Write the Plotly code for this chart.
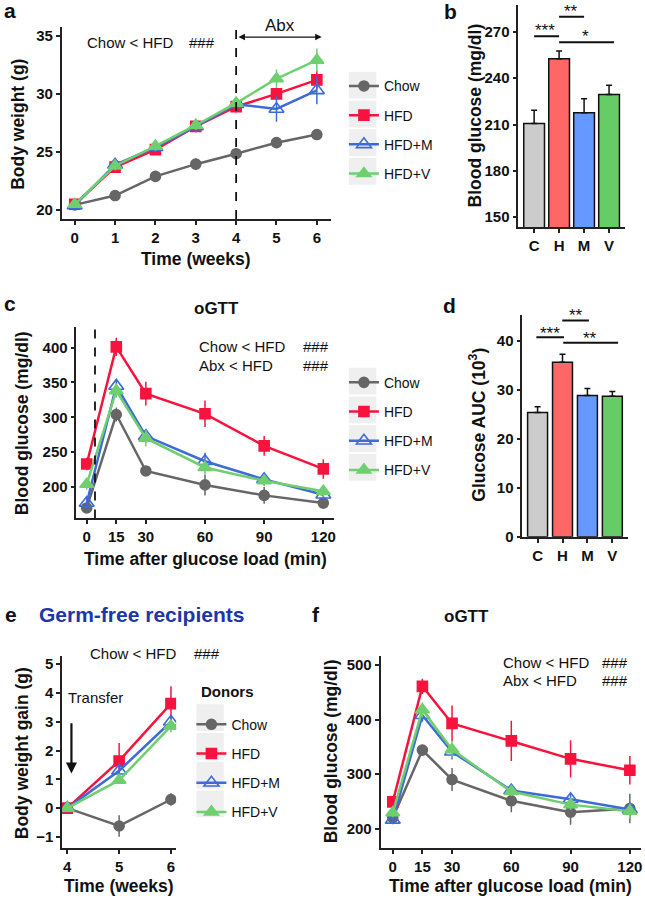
import plotly.graph_objects as go

W, H = 645, 906
FONT = "Liberation Sans, Arial, Helvetica, sans-serif"

# ---------------- data ----------------
groups = ["Chow", "HFD", "HFD+M", "HFD+V"]
bar_cats = ["C", "H", "M", "V"]

# a: body weight (g)
weeks_a = [0, 1, 2, 3, 4, 5, 6]
bw_chow = [20.45, 21.25, 22.9, 23.95, 24.85, 25.8, 26.5]
bw_hfd = [20.5, 23.7, 25.2, 27.2, 28.9, 30.0, 31.2]
bw_hfdm = [20.4, 23.9, 25.4, 27.2, 29.1, 28.7, 30.3]
bw_hfdv = [20.5, 23.8, 25.5, 27.3, 29.2, 31.3, 32.9]
bw_chow_se = [0.3, 0.3, 0.4, 0.5, 0.5, 0.4, 0.4]
bw_hfd_se = [0.3, 0.4, 0.4, 0.4, 0.5, 0.5, 0.8]
bw_hfdm_se = [0.4, 0.4, 0.4, 0.5, 0.5, 1.1, 1.2]
bw_hfdv_se = [0.3, 0.4, 0.4, 0.4, 0.5, 0.8, 1.0]

# b: fasting blood glucose (mg/dl)
glu_b = [210.6, 252.6, 217.7, 229.5]
glu_b_se = [8.6, 5.0, 9.0, 6.0]

# c: oGTT (mg/dl)
t_gtt = [0, 15, 30, 60, 90, 120]
c_chow = [170, 304, 223, 203, 188, 177]
c_hfd = [233, 401, 334, 305, 259, 226]
c_hfdm = [177, 345, 273, 237, 211, 189]
c_hfdv = [204, 338, 270, 228, 209, 194]
c_chow_se = [5, 10, 6, 15, 12, 8]
c_hfd_se = [9, 13, 17, 19, 14, 14]
c_hfdm_se = [8, 10, 10, 12, 8, 8]
c_hfdv_se = [8, 10, 12, 10, 8, 8]

# d: glucose AUC (10^3)
auc_d = [25.4, 35.7, 28.9, 28.7]
auc_d_se = [1.2, 1.6, 1.4, 1.0]

# e: body weight gain (g), germ-free recipients
weeks_e = [4, 5, 6]
e_chow = [0, -0.62, 0.3]
e_hfd = [0, 1.64, 3.63]
e_hfdm = [0, 1.3, 3.0]
e_hfdv = [0, 0.97, 2.85]
e_chow_se = [0, 0.37, 0.22]
e_hfd_se = [0, 0.62, 0.6]
e_hfdm_se = [0, 0.2, 0.2]
e_hfdv_se = [0, 0.1, 0.22]

# f: oGTT recipients (mg/dl)
f_chow = [220, 344, 290, 251, 230, 237]
f_hfd = [249, 461, 393, 361, 328, 307]
f_hfdm = [216, 408, 341, 270, 254, 235]
f_hfdv = [229, 418, 345, 268, 244, 232]
f_chow_se = [10, 10, 21, 21, 23, 27]
f_hfd_se = [8, 14, 33, 37, 34, 26]
f_hfdm_se = [8, 12, 14, 8, 10, 10]
f_hfdv_se = [8, 14, 16, 8, 10, 14]

# ---------------- style ----------------
line_colors = {"Chow": "#666666", "HFD": "#f8133f", "HFD+M": "#3d6bd8", "HFD+V": "#6fcf6f"}
symbols = {"Chow": "circle", "HFD": "square", "HFD+M": "triangle-up-open", "HFD+V": "triangle-up"}
msizes = {"Chow": 10, "HFD": 10, "HFD+M": 13, "HFD+V": 12}
bar_colors = ["#cccccc", "#ff6666", "#6699ff", "#66cc66"]


def pxx(p):
    return p / W


def pxy(p):
    return 1 - p / H


fig = go.Figure()


def add_lines(xs, series, errs, xa, ya, legend, show):
    for g, ys, es in zip(groups, series, errs):
        fig.add_trace(go.Scatter(
            x=xs, y=ys, mode="lines+markers", name=g,
            xaxis=xa, yaxis=ya, legend=legend, showlegend=show,
            legendgroup=legend + g,
            line=dict(color=line_colors[g], width=2.5),
            marker=dict(symbol=symbols[g], size=msizes[g], color=line_colors[g],
                        line=dict(color=line_colors[g], width=1.6)),
            error_y=dict(type="data", array=es, visible=True, color=line_colors[g],
                         thickness=1.5, width=0),
            hoverinfo="skip",
        ))


add_lines(weeks_a, [bw_chow, bw_hfd, bw_hfdm, bw_hfdv],
          [bw_chow_se, bw_hfd_se, bw_hfdm_se, bw_hfdv_se], "x", "y", "legend", True)
add_lines(t_gtt, [c_chow, c_hfd, c_hfdm, c_hfdv],
          [c_chow_se, c_hfd_se, c_hfdm_se, c_hfdv_se], "x3", "y3", "legend2", True)
add_lines(weeks_e, [e_chow, e_hfd, e_hfdm, e_hfdv],
          [e_chow_se, e_hfd_se, e_hfdm_se, e_hfdv_se], "x5", "y5", "legend3", True)
add_lines(t_gtt, [f_chow, f_hfd, f_hfdm, f_hfdv],
          [f_chow_se, f_hfd_se, f_hfdm_se, f_hfdv_se], "x6", "y6", "legend", False)

bar_x = list(range(len(bar_cats)))
fig.add_trace(go.Bar(x=bar_x, y=glu_b, xaxis="x2", yaxis="y2", width=0.83,
                     marker=dict(color=bar_colors, line=dict(color="#111", width=1.5)),
                     error_y=dict(type="data", array=glu_b_se, arrayminus=[0] * 4,
                                  symmetric=False, color="#111", thickness=1.5, width=3),
                     showlegend=False, hoverinfo="skip"))
fig.add_trace(go.Bar(x=bar_x, y=auc_d, xaxis="x4", yaxis="y4", width=0.8,
                     marker=dict(color=bar_colors, line=dict(color="#111", width=1.5)),
                     error_y=dict(type="data", array=auc_d_se, arrayminus=[0] * 4,
                                  symmetric=False, color="#111", thickness=1.5, width=3),
                     showlegend=False, hoverinfo="skip"))

# ---------------- axes ----------------
tickfont = dict(family=FONT, size=15, color="#111", weight="bold")


def ax(**kw):
    d = dict(showline=True, linecolor="#222", linewidth=1.7, ticks="outside",
             ticklen=4, tickwidth=1.5, tickcolor="#222", tickfont=tickfont,
             showgrid=False, zeroline=False, fixedrange=True)
    d.update(kw)
    return d


layout_axes = dict(
    xaxis=ax(domain=[pxx(62), pxx(332)], anchor="y", range=[-0.32, 6.35],
             tickvals=weeks_a),
    yaxis=ax(domain=[pxy(221), pxy(27)], anchor="x", range=[19.23, 35.77],
             tickvals=[20, 25, 30, 35]),
    xaxis2=ax(domain=[pxx(520), pxx(627)], anchor="y2", range=[-0.63, 3.64],
              tickvals=bar_x, ticktext=bar_cats),
    yaxis2=ax(domain=[pxy(229), pxy(5)], anchor="x2", range=[143.6, 287.5],
              tickvals=[150, 180, 210, 240, 270]),
    xaxis3=ax(domain=[pxx(76.7), pxx(335)], anchor="y3", range=[-5.2, 125.4],
              tickvals=t_gtt),
    yaxis3=ax(domain=[pxy(523), pxy(330)], anchor="x3", range=[155, 429.4],
              tickvals=[200, 250, 300, 350, 400]),
    xaxis4=ax(domain=[pxx(524), pxx(630)], anchor="y4", range=[-0.61, 3.63],
              tickvals=bar_x, ticktext=bar_cats),
    yaxis4=ax(domain=[pxy(541.5), pxy(318)], anchor="x4", range=[0, 45.3],
              tickvals=[0, 10, 20, 30, 40]),
    xaxis5=ax(domain=[pxx(62.3), pxx(176.7)], anchor="y5", range=[3.9, 6.1],
              tickvals=weeks_e),
    yaxis5=ax(domain=[pxy(855.7), pxy(661.7)], anchor="x5", range=[-1.39, 5.29],
              tickvals=[-1, 0, 1, 2, 3, 4, 5]),
    xaxis6=ax(domain=[pxx(381.7), pxx(643.3)], anchor="y6", range=[-6.2, 125.8],
              tickvals=t_gtt),
    yaxis6=ax(domain=[pxy(855.7), pxy(661.7)], anchor="x6", range=[164.2, 516.9],
              tickvals=[200, 300, 400, 500]),
)

# ---------------- annotations ----------------
ann = []


def text(x, y, s, size=15, bold=False, xanchor="center", color="#111", angle=0):
    ann.append(dict(x=pxx(x), y=pxy(y), xref="paper", yref="paper", text=s,
                    showarrow=False, xanchor=xanchor, yanchor="middle",
                    textangle=angle,
                    font=dict(family=FONT, size=size, color=color,
                              weight="bold" if bold else "normal")))


# panel labels
for lab, x, y in [("a", 10, 11), ("b", 452, 12), ("c", 10, 306), ("d", 451, 308),
                  ("e", 11, 620), ("f", 317, 620)]:
    text(x, y, lab, size=21, bold=True)

# axis titles
TS = 17.5
text(18, 125, "Body weight (g)", TS, True, angle=-90)
text(197, 261, "Time (weeks)", TS, True)
text(476, 117, "Blood glucose (mg/dl)", TS, True, angle=-90)
text(22, 427, "Blood glucose (mg/dl)", TS, True, angle=-90)
text(206, 564, "Time after glucose load (min)", TS, True)
text(479, 429, "Glucose AUC (10<sup>3</sup>)", TS, True, angle=-90)
text(22, 760, "Body weight gain (g)", TS, True, angle=-90)
text(119, 894, "Time (weeks)", TS, True)
text(332, 758, "Blood glucose (mg/dl)", TS, True, angle=-90)
text(512, 894, "Time after glucose load (min)", TS, True)

# titles
text(217, 311, "oGTT", 17, True)
text(468, 622, "oGTT", 17, True)
text(142, 620, "Germ-free recipients", 21, True, color="#1d36a8")

# statistics text
text(85, 43, "Chow < HFD", 15, xanchor="left")
text(188, 43, "###", 15, xanchor="left")
text(198, 350, "Chow < HFD", 15, xanchor="left")
text(302, 350, "###", 15, xanchor="left")
text(198, 369, "Abx < HFD", 15, xanchor="left")
text(302, 369, "###", 15, xanchor="left")
text(88, 659, "Chow < HFD", 15, xanchor="left")
text(193, 659, "###", 15, xanchor="left")
text(503, 668, "Chow < HFD", 15, xanchor="left")
text(602, 668, "###", 15, xanchor="left")
text(503, 687, "Abx < HFD", 15, xanchor="left")
text(602, 687, "###", 15, xanchor="left")
text(66, 704, "Transfer", 15, xanchor="left")
text(281, 26, "Abx", 17)
text(200, 698, "Donors", 15, True, xanchor="left")

# significance stars
text(547, 31, "***", 17)
text(573, 12, "**", 17)
text(587, 37, "*", 17)
text(552, 336, "***", 17)
text(578, 318, "**", 17)
text(592, 342, "**", 17)

# arrows
ann.append(dict(x=6.12, y=34.88, ax=4.02, ay=34.88, xref="x", yref="y", axref="x", ayref="y",
                showarrow=True, arrowhead=2, arrowside="end+start", arrowsize=1,
                arrowwidth=1.3, arrowcolor="#111", text=""))
ann.append(dict(x=4.08, y=1.2, ax=4.08, ay=3.0, xref="x5", yref="y5", axref="x5", ayref="y5",
                showarrow=True, arrowhead=2, arrowsize=1, arrowwidth=2.2,
                arrowcolor="#111", text=""))

# ---------------- shapes ----------------
shapes = []
shapes.append(dict(type="line", xref="x", yref="y domain", x0=4, x1=4, y0=0, y1=0.99,
                   line=dict(color="#111", width=1.8, dash="dash")))
shapes.append(dict(type="line", xref="x3", yref="y3 domain", x0=4.2, x1=4.2, y0=0, y1=1,
                   line=dict(color="#111", width=1.8, dash="dash")))
# significance bars
for xr, yr, x0, x1, yv in [("x2", "y2", 0, 1, 267.2), ("x2", "y2", 1, 2, 279.8),
                           ("x2", "y2", 1, 3.2, 263.3),
                           ("x4", "y4", -0.05, 1.06, 40.8), ("x4", "y4", 0.99, 2.06, 44.2),
                           ("x4", "y4", 1.03, 3.23, 39.65)]:
    shapes.append(dict(type="line", xref=xr, yref=yr, x0=x0, x1=x1, y0=yv, y1=yv,
                       line=dict(color="#111", width=2)))

# legend key backgrounds
for (bx, by) in [(350, 72.5), (350, 371), (197, 710.5)]:
    for i in range(4):
        y0 = by + 29 * i
        shapes.append(dict(type="rect", xref="paper", yref="paper",
                           x0=pxx(bx), x1=pxx(bx + 27.5), y0=pxy(y0 + 27), y1=pxy(y0),
                           fillcolor="#efefef", line=dict(width=0), layer="below"))

legfont = dict(family=FONT, size=14, color="#111")


def leg(x, y):
    return dict(x=pxx(x), y=pxy(y), xanchor="left", yanchor="top", font=legfont,
                bgcolor="rgba(0,0,0,0)", itemwidth=30, tracegroupgap=8,
                itemclick=False, itemdoubleclick=False)


fig.update_layout(
    width=W, height=H, margin=dict(l=0, r=0, t=0, b=0),
    paper_bgcolor="white", plot_bgcolor="white",
    font=dict(family=FONT, color="#111"),
    annotations=ann, shapes=shapes,
    legend=leg(345, 71),
    legend2=leg(345, 370),
    legend3=leg(192, 715),
    **layout_axes,
)

fig.write_html("out.html", config={"displayModeBar": False},
               post_script="document.body.style.margin='0';document.body.style.overflow='hidden';")
